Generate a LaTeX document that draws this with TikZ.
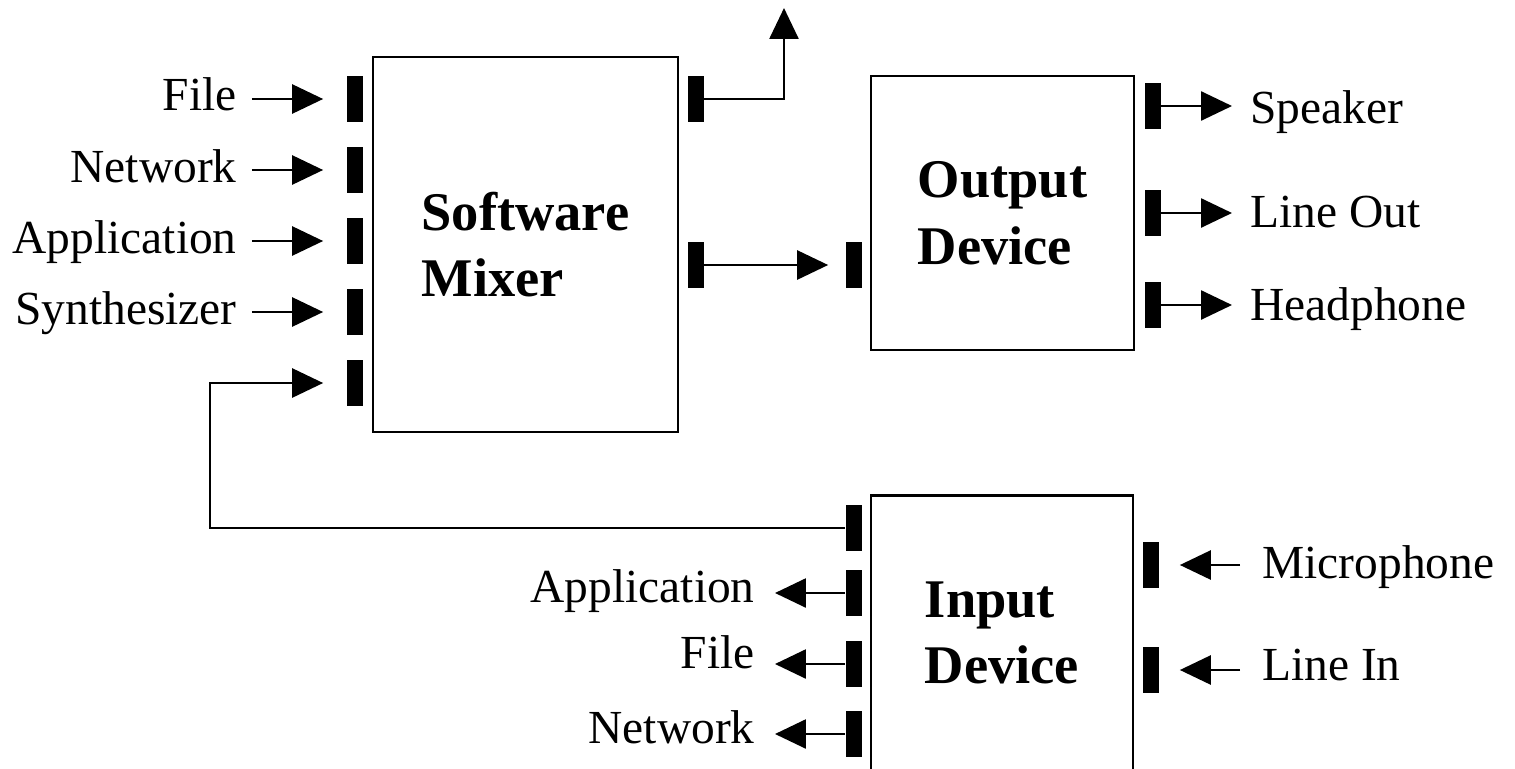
\documentclass[tikz,border=0pt]{standalone}
\usepackage{fontspec}
\setmainfont{Liberation Serif}
\usetikzlibrary{arrows.meta}

\tikzset{
  port/.style={fill=black, inner sep=0pt, minimum width=0.32cm, minimum height=0.92cm},
  device/.style={draw, line width=1.5pt, inner sep=0pt, align=left,
    font=\fontsize{31}{38}\selectfont\bfseries},
  lbl/.style={inner sep=0pt, font=\fontsize{27}{32}\selectfont},
  arr/.style={line width=1.5pt, -{Triangle[length=0.62cm,width=0.58cm]}}
}

\begin{document}
\begin{tikzpicture}[x=0.02cm, y=-0.02cm]

\useasboundingbox (0,0) rectangle (1515,768);

% the three boxes
\node[device, minimum width=6.1cm, minimum height=7.5cm] (mixer) at (525.5,244.5) {Software\\Mixer};
\node[device, minimum width=5.26cm, minimum height=5.48cm] (outdev) at (1002.5,213) {Output\\Device};
\node[device, minimum width=5.24cm, minimum height=5.5cm] (indev) at (1002,633) {Input\\Device};

% ports
\foreach \y [count=\i] in {99,170,241,312,383}
  \node[port] (mi\i) at (354.5,\y) {};
\node[port] (mo1) at (695.5,99) {};
\node[port] (mo2) at (695.5,265) {};
\node[port] (od) at (853.5,265) {};
\foreach \y [count=\i] in {106,213,305}
  \node[port] (oo\i) at (1153,\y) {};
\foreach \y [count=\i] in {528,593,664,734}
  \node[port] (il\i) at (853.5,\y) {};
\node[port] (ir1) at (1150.5,565) {};
\node[port] (ir2) at (1150.5,670) {};

% labels
\node[lbl, anchor=base east] (fileA) at (237,110) {File};
\node[lbl, anchor=base east] (netA) at (237,182) {Network};
\node[lbl, anchor=base east] (appA) at (237,253) {Application};
\node[lbl, anchor=base east] (synA) at (237,324) {Synthesizer};

\node[lbl, anchor=base west] (spk) at (1250,123) {Speaker};
\node[lbl, anchor=base west] (lout) at (1250,227) {Line Out};
\node[lbl, anchor=base west] (head) at (1250,320) {Headphone};

\node[lbl, anchor=base east] (appB) at (755,602) {Application};
\node[lbl, anchor=base east] (fileB) at (755,668) {File};
\node[lbl, anchor=base east] (netB) at (755,743) {Network};

\node[lbl, anchor=base west] (mic) at (1262,578) {Microphone};
\node[lbl, anchor=base west] (lin) at (1262,680) {Line In};

% into the mixer
\foreach \n/\i in {fileA/1, netA/2, appA/3, synA/4}
  \draw[arr, shorten <=0.3cm, shorten >=0.46cm] (\n.east |- mi\i) -- (mi\i);

\coordinate (back) at (210,383);
\draw[arr, shorten >=0.46cm] (il1) -| (back) -- (mi5);

% out of the mixer
\coordinate (tap) at (784,8);
\draw[arr] (mo1) -| (tap);
\draw[arr, shorten >=0.34cm] (mo2) -- (od);

% output device
\foreach \n/\i in {spk/1, lout/2, head/3}
  \draw[arr, shorten >=0.36cm] (oo\i) -- (\n.west |- oo\i);

% input device
\foreach \n/\i in {appB/2, fileB/3, netB/4}
  \draw[arr, shorten >=0.4cm] (il\i) -- (\n.east |- il\i);
\foreach \n/\i in {mic/1, lin/2}
  \draw[arr, shorten <=0.44cm, shorten >=0.42cm] (\n.west |- ir\i) -- (ir\i);

\end{tikzpicture}
\end{document}
